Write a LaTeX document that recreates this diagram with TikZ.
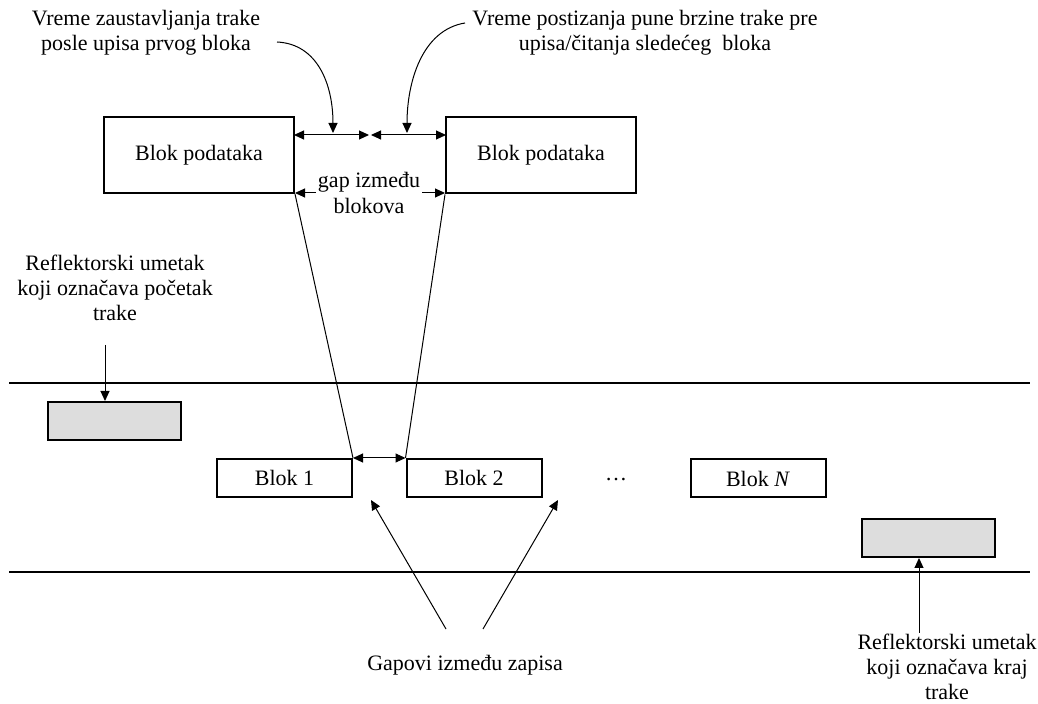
\documentclass[tikz,border=0pt]{standalone}
\usepackage{fontspec}
\setmainfont{Liberation Serif}
\usetikzlibrary{arrows.meta,calc}
\definecolor{reflgray}{HTML}{DDDDDD}
\tikzset{
  blk/.style={draw, line width=1pt, inner sep=0pt, minimum height=19pt, minimum width=67.5pt},
  bigblk/.style={blk, minimum height=38pt, minimum width=95pt},
  refl/.style={blk, fill=reflgray, minimum width=66.5pt},
  lbl/.style={align=center, inner sep=1pt},
  tip/.style={line width=0.5pt, -{Triangle[length=5pt,width=4.5pt]}},
  dtip/.style={line width=0.5pt, {Triangle[length=5pt,width=4.5pt]}-{Triangle[length=5pt,width=4.5pt]}},
  tape/.style={line width=1pt},
  thin/.style={line width=0.5pt}
}
\begin{document}
\begin{tikzpicture}[x=0.5pt,y=-0.5pt,font=\fontsize{11}{12.6}\selectfont]
\useasboundingbox (0,0) rectangle (1038,704);

% labels at the top
\node[lbl] (stop) at (146,33) {Vreme zaustavljanja trake\\posle upisa prvog bloka};
\node[lbl] (start) at (645,33) {Vreme postizanja pune brzine trake pre\\upisa/čitanja sledećeg\ \ bloka};

% the two data blocks
\node[bigblk] (ta) at (199,155) {Blok podataka};
\node[bigblk] (tb) at (541,155.5) {Blok podataka};
\node[lbl] (gap) at (369,193) {gap između\\blokova};

% stop / start intervals
\coordinate (g1) at (294,135);
\coordinate (gm1) at (369,135);
\coordinate (gm2) at (371,135);
\coordinate (g2) at (446,135);
\draw[dtip] (g1) -- (gm1);
\draw[dtip] (gm2) -- (g2);
\draw[tip] (gap.west) -- (gap.west -| ta.south east);
\draw[tip] (gap.east) -- (gap.east -| tb.south west);

% curved pointers from the top labels
\coordinate (c1) at (277,42);
\coordinate (c1e) at (333,133);
\coordinate (c2) at (465,23);
\coordinate (c2e) at (407,133);
\draw[tip] (c1) .. controls (318,44) and (333,85) .. (c1e);
\draw[tip] (c2) .. controls (422,30) and (407,82) .. (c2e);

% tape edges
\coordinate (t1l) at (9,383);
\coordinate (t1r) at (1030,383);
\coordinate (t2l) at (9,572);
\coordinate (t2r) at (1030,572);
\draw[tape] (t1l) -- (t1r);
\draw[tape] (t2l) -- (t2r);

% blocks on the tape
\node[blk] (b1) at (284.5,478) {Blok 1};
\node[blk] (b2) at (474,478) {Blok 2};
\node (dots) at (616,480) {…};
\node[blk] (bn) at (758,478.5) {Blok \textit{N}};
\draw[dtip] (b1.north east) -- (b2.north west);

% zoom lines
\draw[thin] (ta.south east) -- (b1.north east);
\draw[thin] (tb.south west) -- (b2.north west);

% reflective markers
\node[refl] (rfs) at (114.5,421) {};
\node[refl] (rfe) at (928.5,538) {};
\node[lbl] (rs) at (115,288) {Reflektorski umetak\\koji označava početak\\trake};
\node[lbl, inner sep=0pt] (re) at (947,667) {Reflektorski umetak\\koji označava kraj\\trake};
\coordinate (rsa) at (105,345);
\coordinate (rea) at (919,633);
\draw[tip] (rsa) -- (rsa |- rfs.north);
\draw[tip] (rea) -- (rea |- rfe.south);

% record gaps
\node[lbl] (gp) at (465,665) {Gapovi između zapisa};
\coordinate (ga1) at (446,629);
\coordinate (ga1e) at (371,500);
\coordinate (ga2) at (483,629);
\coordinate (ga2e) at (558,500);
\draw[tip] (ga1) -- (ga1e);
\draw[tip] (ga2) -- (ga2e);
\end{tikzpicture}
\end{document}
